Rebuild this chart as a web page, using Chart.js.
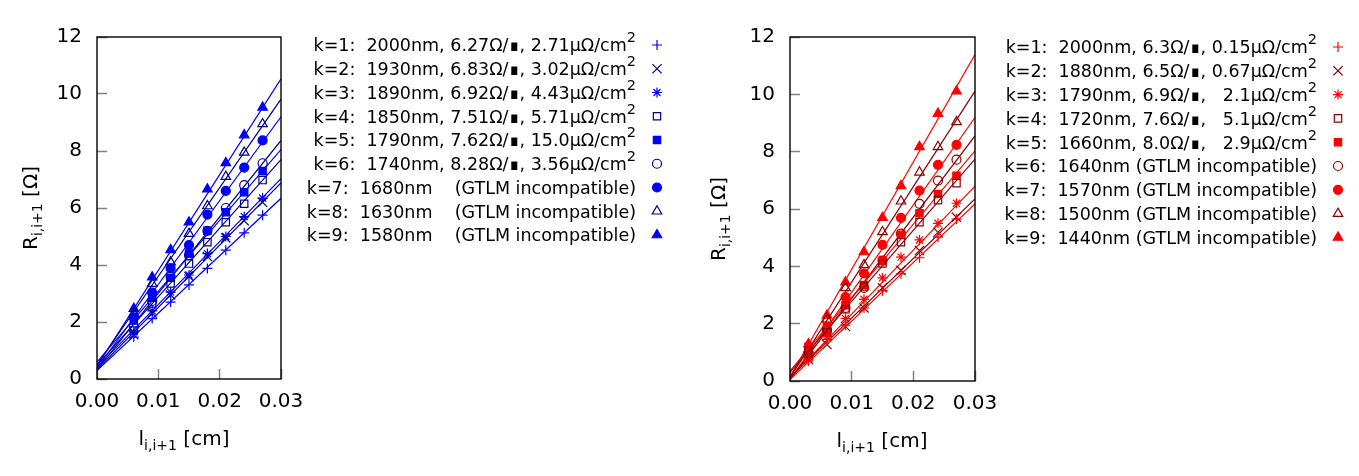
<!DOCTYPE html>
<html>
<head>
<meta charset="utf-8">
<script src="https://cdn.jsdelivr.net/npm/chart.js@4.4.1/dist/chart.umd.min.js"></script>
<style>
  html, body { margin: 0; padding: 0; background: #fff; }
  #wrap { position: relative; width: 1359px; height: 476px; }
  .panel { position: absolute; top: 0; height: 476px; }
</style>
</head>
<body>
<div id="wrap">
  <div class="panel" style="left:0;width:690px"><canvas id="chartLeft" width="690" height="476"></canvas></div>
  <div class="panel" style="left:690px;width:669px"><canvas id="chartRight" width="669" height="476"></canvas></div>
</div>
<script>
// --- data ---
const xTicks = [0, 0.01, 0.02, 0.03];
const yTicks = [0, 2, 4, 6, 8, 10, 12];

// left panel (blue)
const leftX = [0.006, 0.009, 0.012, 0.015, 0.018, 0.021, 0.024, 0.027];
const leftK1 = [1.47, 2.12, 2.70, 3.30, 3.88, 4.52, 5.13, 5.75];
const leftK2 = [1.55, 2.31, 2.95, 3.60, 4.30, 4.95, 5.55, 6.20];
const leftK3 = [1.65, 2.39, 3.05, 3.65, 4.40, 5.00, 5.70, 6.35];
const leftK4 = [1.70, 2.65, 3.35, 4.05, 4.80, 5.50, 6.15, 6.98];
const leftK5 = [2.05, 2.85, 3.55, 4.40, 5.20, 5.85, 6.55, 7.30];
const leftK6 = [1.85, 2.74, 3.60, 4.35, 5.20, 6.00, 6.80, 7.57];
const leftK7 = [2.16, 3.03, 3.89, 4.70, 5.77, 6.60, 7.42, 8.37];
const leftK8 = [2.30, 3.35, 4.10, 5.10, 6.07, 7.10, 7.95, 8.95];
const leftK9 = [2.47, 3.57, 4.53, 5.50, 6.66, 7.58, 8.56, 9.53];
const leftFitStart = [0.30, 0.33, 0.41, 0.48, 0.60, 0.33, 0.38, 0.50, 0.45];
const leftFitEnd = [6.34, 6.88, 7.03, 7.70, 8.05, 8.37, 9.20, 9.82, 10.53];
const leftLabels = [
  'k=1:  2000nm, 6.27Ω/∎, 2.71μΩ/cm²',
  'k=2:  1930nm, 6.83Ω/∎, 3.02μΩ/cm²',
  'k=3:  1890nm, 6.92Ω/∎, 4.43μΩ/cm²',
  'k=4:  1850nm, 7.51Ω/∎, 5.71μΩ/cm²',
  'k=5:  1790nm, 7.62Ω/∎, 15.0μΩ/cm²',
  'k=6:  1740nm, 8.28Ω/∎, 3.56μΩ/cm²',
  'k=7:  1680nm    (GTLM incompatible)',
  'k=8:  1630nm    (GTLM incompatible)',
  'k=9:  1580nm    (GTLM incompatible)'
];

// right panel (red)
const rightX = [0.003, 0.006, 0.009, 0.012, 0.015, 0.018, 0.021, 0.024, 0.027];
const rightK1 = [0.70, 1.45, 1.95, 2.55, 3.15, 3.74, 4.30, 5.02, 5.65];
const rightK2 = [0.75, 1.27, 1.90, 2.55, 3.25, 3.86, 4.55, 5.19, 5.71];
const rightK3 = [0.75, 1.56, 2.18, 2.85, 3.60, 4.32, 4.92, 5.50, 6.20];
const rightK4 = [1.05, 1.70, 2.50, 3.30, 4.10, 4.84, 5.54, 6.31, 6.90];
const rightK5 = [1.19, 1.90, 2.64, 3.35, 4.20, 5.10, 5.85, 6.52, 7.16];
const rightK6 = [0.90, 1.80, 2.55, 3.25, 4.20, 5.14, 6.18, 6.99, 7.72];
const rightK7 = [0.90, 1.74, 2.93, 3.75, 4.75, 5.69, 6.64, 7.54, 8.24];
const rightK8 = [1.10, 2.15, 3.25, 4.05, 5.20, 6.27, 7.28, 8.17, 9.04];
const rightK9 = [1.29, 2.29, 3.45, 4.50, 5.70, 6.81, 8.17, 9.33, 10.11];
const rightFitStart = [0.05, 0.12, 0.10, 0.30, 0.35, 0.05, 0.05, 0.12, 0.15];
const rightFitEnd = [6.18, 6.35, 6.80, 7.74, 8.03, 8.55, 9.19, 10.11, 11.39];
const rightLabels = [
  'k=1:  2000nm, 6.3Ω/∎, 0.15μΩ/cm²',
  'k=2:  1880nm, 6.5Ω/∎, 0.67μΩ/cm²',
  'k=3:  1790nm, 6.9Ω/∎,   2.1μΩ/cm²',
  'k=4:  1720nm, 7.6Ω/∎,   5.1μΩ/cm²',
  'k=5:  1660nm, 8.0Ω/∎,   2.9μΩ/cm²',
  'k=6:  1640nm (GTLM incompatible)',
  'k=7:  1570nm (GTLM incompatible)',
  'k=8:  1500nm (GTLM incompatible)',
  'k=9:  1440nm (GTLM incompatible)'
];

// marker look per k
const pointStyles = ['cross', 'crossRot', 'star', 'rect', 'rect', 'circle', 'circle', 'triangle', 'triangle'];
const filled = [false, false, false, false, true, false, true, false, true];
const pointSizes = [5, 6.5, 5, 5.2, 5.2, 4.5, 4.5, 5.5, 5.5];

const FONT = "'DejaVu Sans', sans-serif";
Chart.defaults.font.family = FONT;
Chart.defaults.color = '#000';

const buildDatasets = (xs, series, fitStart, fitEnd, colors) => {
  const out = [];
  series.forEach((ys, i) => {
    const c = colors[i % 2];
    out.push({
      data: [{ x: xTicks[0], y: fitStart[i] }, { x: xTicks[xTicks.length - 1], y: fitEnd[i] }],
      showLine: true,
      borderColor: c,
      borderWidth: 1.2,
      pointRadius: 0
    });
    out.push({
      data: xs.map((x, j) => ({ x, y: ys[j] })),
      showLine: false,
      pointStyle: pointStyles[i],
      pointRadius: pointSizes[i],
      borderColor: c,
      backgroundColor: filled[i] ? c : 'rgba(0,0,0,0)',
      borderWidth: 1.2
    });
  });
  return out;
};

// text with a subscript part, optionally rotated
const drawSubText = (ctx, main, sub, tail, x, y, rotated) => {
  ctx.save();
  ctx.translate(x, y);
  if (rotated) ctx.rotate(-Math.PI / 2);
  ctx.textBaseline = 'alphabetic';
  ctx.textAlign = 'left';
  ctx.font = '20px ' + FONT;
  const w1 = ctx.measureText(main).width;
  const w3 = ctx.measureText(tail).width;
  ctx.font = '14px ' + FONT;
  const w2 = ctx.measureText(sub).width;
  let cx = -(w1 + w2 + w3) / 2;
  ctx.fillStyle = '#000';
  ctx.font = '20px ' + FONT;
  ctx.fillText(main, cx, 0);
  cx += w1;
  ctx.font = '14px ' + FONT;
  ctx.fillText(sub, cx, 5);
  cx += w2;
  ctx.font = '20px ' + FONT;
  ctx.fillText(tail, cx, 0);
  ctx.restore();
};

const drawLegendText = (ctx, text, right, y) => {
  const parts = text.split('²');
  ctx.font = '17.5px ' + FONT;
  const w0 = ctx.measureText(parts[0]).width;
  let wSup = 0;
  if (parts.length > 1) {
    ctx.font = '14.5px ' + FONT;
    wSup = ctx.measureText('2').width;
  }
  const x0 = right - w0 - wSup;
  ctx.textAlign = 'left';
  ctx.textBaseline = 'alphabetic';
  ctx.fillStyle = '#000';
  ctx.font = '17.5px ' + FONT;
  ctx.fillText(parts[0], x0, y + 6.4);
  if (parts.length > 1) {
    ctx.font = '14.5px ' + FONT;
    ctx.fillText('2', x0 + w0, y - 2.6);
  }
};

const decor = {
  id: 'decor',
  afterDraw(chart, args, o) {
    const { ctx, chartArea: a } = chart;
    ctx.save();
    ctx.strokeStyle = '#000';
    ctx.lineWidth = 1.4;
    ctx.strokeRect(a.left, a.top, a.right - a.left, a.bottom - a.top);

    drawSubText(ctx, 'l', 'i,i+1', ' [cm]', o.xTitleX, o.xTitleY, false);
    drawSubText(ctx, 'R', 'i,i+1', ' [Ω]', o.yTitleX, o.yTitleY, true);

    o.labels.forEach((lab, i) => {
      const y = o.legendY + i * o.legendStep;
      drawLegendText(ctx, lab, o.legendRight, y);
      const c = o.colors[i % 2];
      ctx.strokeStyle = c;
      ctx.fillStyle = filled[i] ? c : 'rgba(0,0,0,0)';
      ctx.lineWidth = 1.2;
      Chart.helpers.drawPoint(ctx, {
        pointStyle: pointStyles[i],
        radius: pointSizes[i],
        rotation: 0,
        borderWidth: 1.2
      }, o.legendMarkerX, y);
    });
    ctx.restore();
  }
};

const makeChart = (id, datasets, p) => new Chart(document.getElementById(id), {
  type: 'scatter',
  data: { datasets },
  plugins: [decor],
  options: {
    responsive: false,
    animation: false,
    layout: { padding: { left: 0, right: p.padRight, top: p.padTop, bottom: 0 } },
    scales: {
      x: {
        type: 'linear',
        min: xTicks[0],
        max: xTicks[xTicks.length - 1],
        afterBuildTicks: s => { s.ticks = xTicks.map(v => ({ value: v })); },
        afterFit: s => { s.height = p.xAxisHeight; },
        ticks: {
          padding: 21,
          autoSkip: false,
          maxRotation: 0,
          font: { size: 20 },
          color: '#000',
          callback: v => Number(v).toFixed(2)
        },
        grid: { drawOnChartArea: false, drawTicks: true, tickLength: -10, tickColor: '#808080', tickWidth: 1.5 },
        border: { display: false }
      },
      y: {
        type: 'linear',
        min: yTicks[0],
        max: yTicks[yTicks.length - 1],
        afterBuildTicks: s => { s.ticks = yTicks.map(v => ({ value: v })); },
        afterFit: s => { s.width = p.yAxisWidth; },
        ticks: { padding: 25, font: { size: 20 }, color: '#000' },
        grid: { drawOnChartArea: false, drawTicks: true, tickLength: -10, tickColor: '#808080', tickWidth: 1.5 },
        border: { display: false }
      }
    },
    plugins: {
      legend: { display: false },
      tooltip: { enabled: false },
      decor: p.decor
    }
  }
});

const blues = ['#0000ff', '#00008b'];
const reds = ['#ff0000', '#8b0000'];

makeChart('chartLeft',
  buildDatasets(leftX, [leftK1, leftK2, leftK3, leftK4, leftK5, leftK6, leftK7, leftK8, leftK9], leftFitStart, leftFitEnd, blues),
  {
    padRight: 409, padTop: 33, xAxisHeight: 97, yAxisWidth: 97,
    decor: {
      labels: leftLabels, colors: blues,
      xTitleX: 184, xTitleY: 445, yTitleX: 37, yTitleY: 208,
      legendRight: 636, legendMarkerX: 657, legendY: 45, legendStep: 23.75
    }
  });

makeChart('chartRight',
  buildDatasets(rightX, [rightK1, rightK2, rightK3, rightK4, rightK5, rightK6, rightK7, rightK8, rightK9], rightFitStart, rightFitEnd, reds),
  {
    padRight: 384, padTop: 36, xAxisHeight: 95, yAxisWidth: 100,
    decor: {
      labels: rightLabels, colors: reds,
      xTitleX: 192, xTitleY: 447, yTitleX: 35, yTitleY: 219,
      legendRight: 627, legendMarkerX: 648, legendY: 47, legendStep: 23.8
    }
  });
</script>
</body>
</html>
